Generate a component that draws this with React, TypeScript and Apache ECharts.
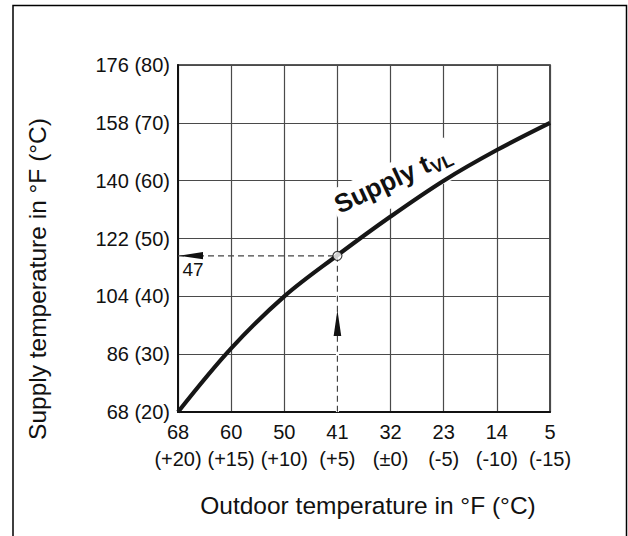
import React, { useEffect, useRef } from "react";
import * as echarts from "echarts";

// Outdoor temperature, °C (x positions) and their °F labels
const outdoorC = [20, 15, 10, 5, 0, -5, -10, -15];
const outdoorF = [68, 60, 50, 41, 32, 23, 14, 5];
// Supply temperature curve, °C
const supplyC = [20, 31, 40, 47.1, 53.8, 60, 65.3, 70];
// Y axis ticks
const yTickC = [20, 30, 40, 50, 60, 70, 80];
const yTickF = [68, 86, 104, 122, 140, 158, 176];
// Example reading
const readOutdoorC = 5;
const readSupplyC = 47;
const readLabel = "47";

const FONT = "'Liberation Sans', Arial, Helvetica, sans-serif";

function cLabel(c: number): string {
  if (c > 0) return `(+${c})`;
  if (c === 0) return "(±0)";
  return `(${c})`;
}

export default function App() {
  const ref = useRef<HTMLDivElement>(null);

  useEffect(() => {
    document.body.style.margin = "0";
    if (!ref.current) return;
    const chart = echarts.init(ref.current, undefined, { renderer: "svg" });

    const option: any = {
      animation: false,
      backgroundColor: "#fff",
      grid: {
        left: 178,
        top: 65,
        right: 78,
        bottom: 124,
        show: true,
        borderColor: "#222",
        borderWidth: 1.6,
        backgroundColor: "transparent",
      },
      xAxis: {
        type: "value",
        min: -15,
        max: 20,
        interval: 5,
        inverse: true,
        axisLine: { show: true, onZero: false, lineStyle: { color: "#111", width: 2 } },
        axisTick: { show: false },
        splitLine: { show: true, lineStyle: { color: "#4a4a4a", width: 1.2 } },
        axisLabel: {
          color: "#111",
          fontFamily: FONT,
          fontSize: 20,
          lineHeight: 27,
          margin: 6,
          formatter: (v: number) => {
            const i = outdoorC.indexOf(v);
            return i >= 0 ? `${outdoorF[i]}\n${cLabel(v)}` : "";
          },
        },
      },
      yAxis: {
        type: "value",
        min: 20,
        max: 80,
        interval: 10,
        axisLine: { show: true, onZero: false, lineStyle: { color: "#111", width: 2 } },
        axisTick: { show: false },
        splitLine: { show: true, lineStyle: { color: "#4a4a4a", width: 1.2 } },
        axisLabel: {
          color: "#111",
          fontFamily: FONT,
          fontSize: 20,
          margin: 8,
          formatter: (v: number) => {
            const i = yTickC.indexOf(v);
            return i >= 0 ? `${yTickF[i]} (${v})` : "";
          },
        },
      },
      series: [
        {
          // white cover to hide grid line below the reading point
          type: "line",
          data: [
            [readOutdoorC, readSupplyC],
            [readOutdoorC, 20],
          ],
          symbol: "none",
          lineStyle: { color: "#fff", width: 3 },
          z: 2,
          silent: true,
        },
        {
          type: "line",
          data: [
            [20, readSupplyC],
            [readOutdoorC, readSupplyC],
          ],
          symbol: "none",
          lineStyle: { color: "#444", width: 1.2, type: [6, 4] },
          z: 3,
        },
        {
          type: "line",
          data: [
            [readOutdoorC, readSupplyC],
            [readOutdoorC, 20],
          ],
          symbol: "none",
          lineStyle: { color: "#444", width: 1.2, type: [6, 4] },
          z: 3,
        },
        {
          name: "Supply",
          type: "line",
          data: outdoorC.map((c, i) => [c, supplyC[i]]),
          smooth: 0.35,
          symbol: "none",
          lineStyle: { color: "#161616", width: 4.2 },
          z: 4,
        },
        {
          type: "scatter",
          data: [[readOutdoorC, readSupplyC]],
          symbol: "circle",
          symbolSize: 9,
          itemStyle: { color: "#fff", borderColor: "#111", borderWidth: 1.2 },
          z: 5,
        },
      ],
    };
    chart.setOption(option);

    const leftPt = chart.convertToPixel({ xAxisIndex: 0, yAxisIndex: 0 }, [20, readSupplyC]) as number[];
    const bottomPt = chart.convertToPixel({ xAxisIndex: 0, yAxisIndex: 0 }, [readOutdoorC, 20]) as number[];

    const rot = (25 * Math.PI) / 180;

    chart.setOption({
      graphic: [
        {
          type: "rect",
          shape: { x: 13, y: 5.5, width: 613.5, height: 600 },
          style: { fill: "none", stroke: "#000", lineWidth: 1.5 },
          silent: true,
          z: 10,
        },
        {
          // left arrow
          type: "polygon",
          shape: {
            points: [
              [leftPt[0] + 1, leftPt[1]],
              [leftPt[0] + 25, leftPt[1] - 3.8],
              [leftPt[0] + 25, leftPt[1] + 3.5],
            ],
          },
          style: { fill: "#111" },
          z: 6,
        },
        {
          // up arrow
          type: "polygon",
          shape: {
            points: [
              [bottomPt[0], bottomPt[1] - 102],
              [bottomPt[0] - 3.8, bottomPt[1] - 76],
              [bottomPt[0] + 3.8, bottomPt[1] - 76],
            ],
          },
          style: { fill: "#111" },
          z: 6,
        },
        {
          type: "text",
          x: leftPt[0] + 15,
          y: leftPt[1] + 14,
          style: {
            text: readLabel,
            fontFamily: FONT,
            fontSize: 19,
            fill: "#111",
            align: "center",
            verticalAlign: "middle",
          },
          z: 6,
        },
        {
          type: "group",
          x: 339,
          y: 213,
          rotation: rot,
          z: 1,
          children: [
            {
              type: "rect",
              shape: { x: -3, y: -24, width: 130, height: 42 },
              style: { fill: "#fff" },
              z: 1,
            },
            {
              type: "text",
              x: 0,
              y: 5,
              style: {
                text: "Supply t",
                fontFamily: FONT,
                fontWeight: "bold",
                fontSize: 26,
                fill: "#111",
                align: "left",
                verticalAlign: "bottom",
              },
              z: 2,
            },
            {
              type: "text",
              x: 103,
              y: 8,
              style: {
                text: "VL",
                fontFamily: FONT,
                fontWeight: "bold",
                fontSize: 18,
                fill: "#111",
                align: "left",
                verticalAlign: "bottom",
              },
              z: 2,
            },
          ],
        },
        {
          type: "text",
          x: 37,
          y: 279,
          rotation: Math.PI / 2,
          style: {
            text: "Supply temperature in °F (°C)",
            fontFamily: FONT,
            fontSize: 24.5,
            fill: "#111",
            align: "center",
            verticalAlign: "middle",
          },
        },
        {
          type: "text",
          x: 368,
          y: 505,
          style: {
            text: "Outdoor temperature in °F (°C)",
            fontFamily: FONT,
            fontSize: 24.5,
            fill: "#111",
            align: "center",
            verticalAlign: "middle",
          },
        },
      ],
    });

    return () => {
      chart.dispose();
    };
  }, []);

  return <div ref={ref} style={{ width: 628, height: 536 }} />;
}
